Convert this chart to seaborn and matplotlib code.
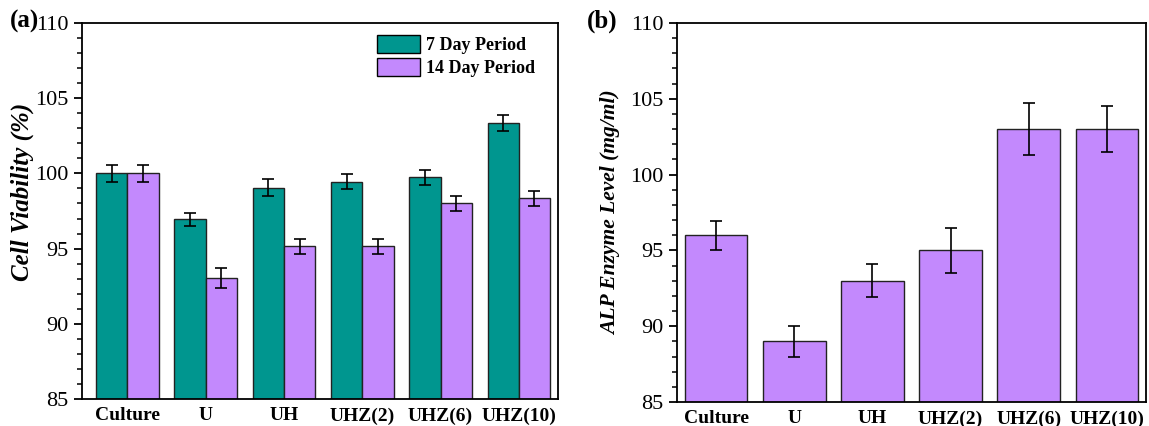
import pandas as pd
import numpy as np
import seaborn as sns
from matplotlib import pyplot as plt
from matplotlib.ticker import MultipleLocator
from matplotlib.patches import Patch

# data
groups = ["Culture", "U", "UH", "UHZ(2)", "UHZ(6)", "UHZ(10)"]
viab_7 = [100.0, 96.95, 99.05, 99.45, 99.75, 103.35]
viab_7_err = [0.55, 0.45, 0.55, 0.5, 0.5, 0.55]
viab_14 = [100.0, 93.05, 95.17, 95.17, 98.0, 98.35]
viab_14_err = [0.55, 0.65, 0.5, 0.5, 0.5, 0.5]
alp = [96.0, 89.0, 93.0, 95.0, 103.0, 103.0]
alp_err = [0.95, 1.0, 1.1, 1.5, 1.7, 1.5]
periods = ["7 Day Period", "14 Day Period"]

teal = "#00968F"
purple = "#C389FD"

sns.set_style("ticks")
plt.rcParams["font.family"] = ["Liberation Serif", "DejaVu Serif"]
plt.rcParams["axes.linewidth"] = 1.3
for key in ["text.color", "axes.labelcolor", "xtick.color", "ytick.color", "axes.edgecolor"]:
    plt.rcParams[key] = "black"


def style_axis(ax, ylabel, lsize, lpad):
    ax.set_ylim(85, 110)
    ax.yaxis.set_major_locator(MultipleLocator(5))
    ax.yaxis.set_minor_locator(MultipleLocator(1))
    ax.tick_params(axis="y", which="major", length=6, width=1.3, labelsize=16, direction="out")
    ax.tick_params(axis="y", which="minor", length=3.5, width=1.1, direction="out")
    ax.tick_params(axis="x", length=0, pad=6)
    for lab in ax.get_xticklabels():
        lab.set_fontweight("bold")
        lab.set_fontsize(14)
    for s in ax.spines.values():
        s.set_visible(True)
        s.set_linewidth(1.3)
    ax.set_xlabel("")
    ax.set_ylabel(ylabel, fontsize=lsize, fontweight="bold", fontstyle="italic", labelpad=lpad)


def main():
    fig = plt.figure(figsize=(11.49, 4.26), dpi=100)
    ax1 = fig.add_axes([0.0714, 0.0634, 0.4142, 0.8826])
    ax2 = fig.add_axes([0.5892, 0.0563, 0.4082, 0.8897])

    # panel (a)
    df = pd.DataFrame({
        "Group": groups * 2,
        "Period": [periods[0]] * 6 + [periods[1]] * 6,
        "Value": viab_7 + viab_14,
    })
    sns.barplot(data=df, x="Group", y="Value", hue="Period", order=groups,
                hue_order=periods, palette=[teal, purple], errorbar=None,
                width=0.8, edgecolor="#222222", linewidth=1, saturation=1,
                legend=False, ax=ax1)
    for cont, errs in zip(ax1.containers, [viab_7_err, viab_14_err]):
        xs = [p.get_x() + p.get_width() / 2 for p in cont.patches]
        ys = [p.get_height() for p in cont.patches]
        ax1.errorbar(xs, ys, yerr=errs, fmt="none", ecolor="black",
                     elinewidth=1.2, capsize=4, capthick=1.2)
    ax1.set_xlim(-0.58, 5.5)
    style_axis(ax1, "Cell Viability (%)", 18, 4)
    ax1.yaxis.set_label_coords(-0.10, 0.55)
    handles = [Patch(facecolor=teal, edgecolor="black", linewidth=1),
               Patch(facecolor=purple, edgecolor="black", linewidth=1)]
    ax1.legend(handles, periods, loc="upper left", frameon=False,
               prop={"weight": "bold", "size": 13}, handlelength=2.4,
               handleheight=1.17, labelspacing=0.22, handletextpad=0.33,
               borderpad=0, borderaxespad=0, bbox_to_anchor=(0.62, 0.968))

    # panel (b)
    dfb = pd.DataFrame({"Group": groups, "Value": alp})
    sns.barplot(data=dfb, x="Group", y="Value", order=groups, color=purple,
                errorbar=None, width=0.8, edgecolor="#222222", linewidth=1,
                saturation=1, ax=ax2)
    xs = [p.get_x() + p.get_width() / 2 for p in ax2.containers[0].patches]
    ys = [p.get_height() for p in ax2.containers[0].patches]
    ax2.errorbar(xs, ys, yerr=alp_err, fmt="none", ecolor="black",
                 elinewidth=1.2, capsize=4, capthick=1.2)
    ax2.set_xlim(-0.5, 5.5)
    style_axis(ax2, "ALP Enzyme Level (mg/ml)", 15.5, 7)

    fig.text(0.009, 0.935, "(a)", fontsize=18, fontweight="bold")
    fig.text(0.511, 0.935, "(b)", fontsize=18, fontweight="bold")

    plt.savefig("out.png", dpi=100)


if __name__ == "__main__":
    main()
